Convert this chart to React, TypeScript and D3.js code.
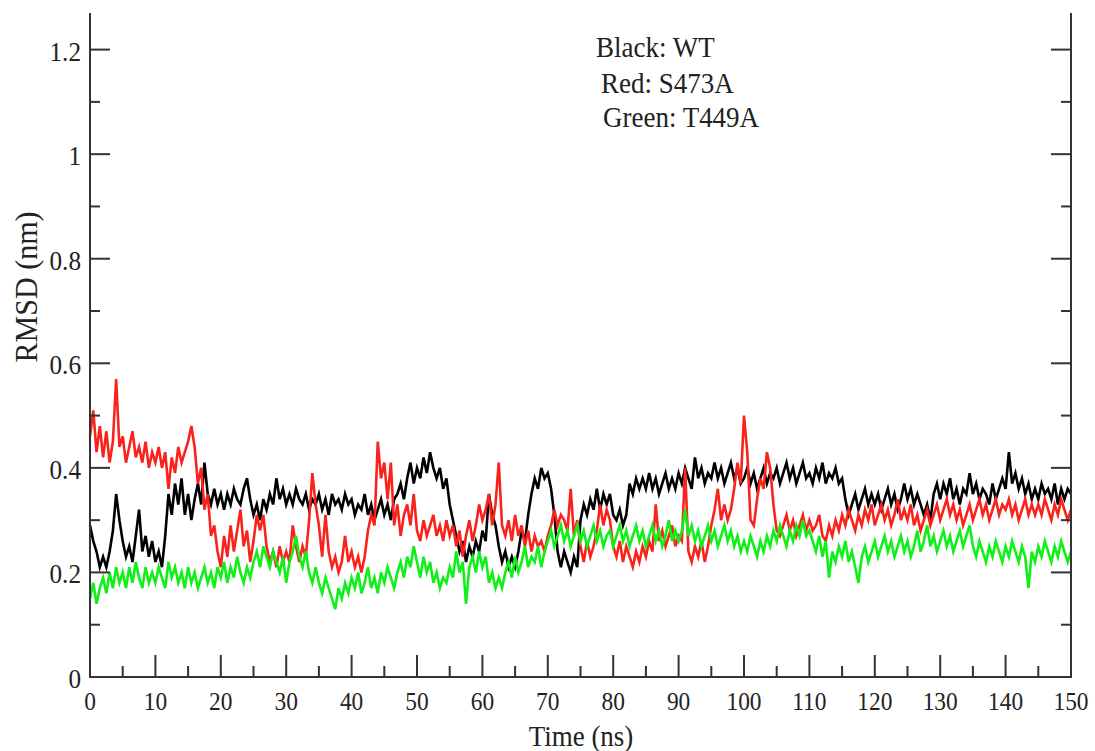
import React, { useRef, useEffect } from 'react';
import * as d3 from 'd3';

// sampled every 0.5 ns, 0..150
const STEP = 0.5;

const wtValues = [
  0.29, 0.26, 0.24, 0.21, 0.23, 0.21, 0.24, 0.28, 0.35, 0.30,
  0.26, 0.23, 0.25, 0.22, 0.27, 0.32, 0.24, 0.27, 0.23, 0.26,
  0.22, 0.24, 0.21, 0.27, 0.35, 0.31, 0.37, 0.33, 0.38, 0.31,
  0.35, 0.30, 0.34, 0.37, 0.33, 0.41, 0.35, 0.33, 0.36, 0.33,
  0.35, 0.32, 0.35, 0.33, 0.36, 0.34, 0.33, 0.36, 0.38, 0.34,
  0.31, 0.33, 0.30, 0.34, 0.32, 0.35, 0.33, 0.38, 0.34, 0.36,
  0.33, 0.35, 0.33, 0.36, 0.34, 0.33, 0.35, 0.32, 0.34, 0.33,
  0.35, 0.32, 0.34, 0.31, 0.35, 0.33, 0.34, 0.32, 0.35, 0.33,
  0.34, 0.31, 0.33, 0.32, 0.35, 0.31, 0.33, 0.30, 0.32, 0.34,
  0.31, 0.33, 0.30, 0.34, 0.35, 0.37, 0.34, 0.38, 0.41, 0.37,
  0.40, 0.38, 0.42, 0.39, 0.43, 0.40, 0.38, 0.40, 0.36, 0.38,
  0.33, 0.30, 0.27, 0.24, 0.26, 0.22, 0.25, 0.23, 0.26, 0.24,
  0.28, 0.26, 0.35, 0.31, 0.29, 0.25, 0.22, 0.24, 0.21, 0.23,
  0.21, 0.24, 0.28, 0.26, 0.31, 0.35, 0.38, 0.36, 0.40, 0.38,
  0.39, 0.36, 0.31, 0.24, 0.21, 0.24, 0.22, 0.20, 0.23, 0.21,
  0.30, 0.33, 0.31, 0.34, 0.32, 0.36, 0.32, 0.35, 0.33, 0.35,
  0.31, 0.30, 0.32, 0.29, 0.31, 0.37, 0.35, 0.38, 0.36, 0.38,
  0.36, 0.39, 0.36, 0.38, 0.35, 0.37, 0.39, 0.36, 0.38, 0.36,
  0.39, 0.37, 0.40, 0.38, 0.36, 0.42, 0.38, 0.40, 0.37, 0.39,
  0.38, 0.41, 0.38, 0.40, 0.37, 0.39, 0.41, 0.38, 0.40, 0.37,
  0.38, 0.40, 0.37, 0.39, 0.36, 0.38, 0.40, 0.37, 0.39, 0.38,
  0.40, 0.37, 0.39, 0.41, 0.38, 0.40, 0.37, 0.39, 0.41, 0.38,
  0.39, 0.37, 0.40, 0.38, 0.41, 0.37, 0.39, 0.38, 0.40, 0.37,
  0.38, 0.34, 0.31, 0.33, 0.35, 0.32, 0.34, 0.36, 0.33, 0.35,
  0.33, 0.35, 0.32, 0.34, 0.36, 0.33, 0.35, 0.32, 0.34, 0.37,
  0.34, 0.36, 0.33, 0.35, 0.33, 0.31, 0.33, 0.30, 0.35, 0.37,
  0.34, 0.37, 0.35, 0.38, 0.34, 0.36, 0.33, 0.36, 0.35, 0.39,
  0.35, 0.37, 0.34, 0.36, 0.35, 0.33, 0.37, 0.34, 0.36, 0.38,
  0.36, 0.43, 0.37, 0.39, 0.36, 0.38, 0.35, 0.37, 0.34, 0.36,
  0.34, 0.37, 0.35, 0.36, 0.34, 0.37, 0.33, 0.36, 0.34, 0.36,
  0.35,
];

const s473aValues = [
  0.46, 0.51, 0.43, 0.48, 0.42, 0.47, 0.41, 0.45, 0.57, 0.44,
  0.46, 0.41, 0.44, 0.47, 0.42, 0.44, 0.41, 0.45, 0.40, 0.43,
  0.41, 0.44, 0.40, 0.43, 0.36, 0.42, 0.39, 0.44, 0.41, 0.43,
  0.45, 0.48, 0.44, 0.37, 0.40, 0.32, 0.35, 0.27, 0.29, 0.24,
  0.21, 0.27, 0.23, 0.29, 0.24, 0.28, 0.32, 0.25, 0.28, 0.22,
  0.26, 0.31, 0.28, 0.31, 0.25, 0.22, 0.24, 0.21, 0.25, 0.22,
  0.24, 0.22, 0.29, 0.25, 0.22, 0.25, 0.23, 0.30, 0.39, 0.33,
  0.29, 0.23, 0.31, 0.24, 0.21, 0.23, 0.20, 0.22, 0.27, 0.22,
  0.24, 0.21, 0.23, 0.20, 0.23, 0.28, 0.31, 0.29, 0.45, 0.38,
  0.41, 0.34, 0.41, 0.29, 0.33, 0.27, 0.31, 0.33, 0.29, 0.35,
  0.28, 0.26, 0.30, 0.27, 0.29, 0.31, 0.27, 0.29, 0.26, 0.30,
  0.27, 0.29, 0.25, 0.28, 0.23, 0.27, 0.30, 0.26, 0.29, 0.33,
  0.30, 0.32, 0.35, 0.29, 0.33, 0.41, 0.29, 0.27, 0.30, 0.26,
  0.31, 0.27, 0.29, 0.25, 0.28, 0.24, 0.27, 0.25, 0.26, 0.24,
  0.27, 0.29, 0.32, 0.29, 0.31, 0.30, 0.28, 0.36, 0.27, 0.30,
  0.25, 0.22, 0.26, 0.23, 0.25, 0.28, 0.33, 0.29, 0.32, 0.30,
  0.25, 0.23, 0.26, 0.22, 0.25, 0.23, 0.21, 0.24, 0.22, 0.25,
  0.23, 0.26, 0.24, 0.33, 0.26, 0.28, 0.25, 0.27, 0.29, 0.25,
  0.27, 0.26, 0.40, 0.24, 0.22, 0.25, 0.23, 0.26, 0.22, 0.25,
  0.29, 0.32, 0.36, 0.30, 0.33, 0.30, 0.32, 0.36, 0.41, 0.37,
  0.50, 0.43, 0.30, 0.29, 0.34, 0.38, 0.36, 0.43, 0.40, 0.33,
  0.28, 0.27, 0.29, 0.31, 0.28, 0.30, 0.27, 0.29, 0.31, 0.28,
  0.30, 0.28, 0.29, 0.31, 0.27, 0.26, 0.29, 0.27, 0.30, 0.28,
  0.31, 0.29, 0.32, 0.30, 0.28, 0.31, 0.29, 0.32, 0.30, 0.33,
  0.29, 0.31, 0.33, 0.30, 0.32, 0.29, 0.31, 0.34, 0.30, 0.32,
  0.30, 0.33, 0.29, 0.31, 0.28, 0.30, 0.32, 0.29, 0.31, 0.33,
  0.30, 0.32, 0.34, 0.31, 0.33, 0.30, 0.32, 0.29, 0.31, 0.33,
  0.30, 0.32, 0.34, 0.31, 0.33, 0.30, 0.32, 0.34, 0.31, 0.33,
  0.32, 0.34, 0.31, 0.33, 0.30, 0.32, 0.34, 0.31, 0.33, 0.31,
  0.33, 0.31, 0.34, 0.32, 0.30, 0.33, 0.31, 0.34, 0.32, 0.30,
  0.32,
];

const t449aValues = [
  0.15, 0.18, 0.14, 0.17, 0.19, 0.16, 0.20, 0.17, 0.21, 0.18,
  0.20, 0.17, 0.21, 0.18, 0.22, 0.19, 0.17, 0.21, 0.18, 0.20,
  0.18, 0.21, 0.19, 0.17, 0.22, 0.19, 0.21, 0.18, 0.20, 0.17,
  0.21, 0.18, 0.20, 0.17, 0.19, 0.21, 0.18, 0.20, 0.17, 0.21,
  0.19, 0.22, 0.18, 0.21, 0.19, 0.23, 0.20, 0.18, 0.21, 0.19,
  0.22, 0.24, 0.21, 0.25, 0.23, 0.21, 0.24, 0.22, 0.20, 0.23,
  0.18, 0.22, 0.24, 0.27, 0.23, 0.21, 0.24, 0.20, 0.18, 0.21,
  0.18, 0.16, 0.19, 0.17, 0.15, 0.13, 0.17, 0.15, 0.18, 0.16,
  0.19, 0.17, 0.20, 0.16, 0.18, 0.21, 0.17, 0.19, 0.16, 0.20,
  0.18, 0.21, 0.19, 0.17, 0.20, 0.22, 0.19, 0.23, 0.21, 0.25,
  0.22, 0.19, 0.23, 0.20, 0.22, 0.18, 0.20, 0.17, 0.19, 0.18,
  0.21, 0.19, 0.24, 0.20, 0.22, 0.14, 0.21, 0.23, 0.20, 0.24,
  0.21, 0.23, 0.18, 0.20, 0.17, 0.19, 0.17, 0.20, 0.22, 0.19,
  0.23, 0.20, 0.22, 0.25, 0.21, 0.23, 0.22, 0.25, 0.21, 0.24,
  0.26, 0.28, 0.25, 0.27, 0.29, 0.26, 0.28, 0.25, 0.27, 0.29,
  0.26, 0.28, 0.25, 0.27, 0.29, 0.26, 0.28, 0.25, 0.27, 0.28,
  0.25, 0.27, 0.29, 0.26, 0.28, 0.25, 0.27, 0.29, 0.26, 0.28,
  0.25, 0.27, 0.29, 0.26, 0.28, 0.25, 0.27, 0.30, 0.26, 0.28,
  0.26, 0.28, 0.32, 0.27, 0.29, 0.26, 0.28, 0.25, 0.27, 0.29,
  0.26, 0.28, 0.25, 0.27, 0.29, 0.26, 0.28, 0.25, 0.27, 0.24,
  0.26, 0.24, 0.27, 0.25, 0.23, 0.26, 0.24, 0.27, 0.25, 0.28,
  0.26, 0.29, 0.27, 0.25, 0.28, 0.26, 0.29, 0.27, 0.30, 0.27,
  0.28, 0.26, 0.24, 0.27, 0.23, 0.26, 0.19, 0.24, 0.22, 0.25,
  0.23, 0.26, 0.22, 0.24, 0.21, 0.18, 0.23, 0.25, 0.22, 0.24,
  0.26, 0.23, 0.25, 0.27, 0.24, 0.26, 0.23, 0.25, 0.27, 0.24,
  0.26, 0.23, 0.25, 0.28, 0.24, 0.26, 0.29, 0.25, 0.27, 0.24,
  0.26, 0.28, 0.25, 0.27, 0.24, 0.26, 0.28, 0.25, 0.27, 0.29,
  0.25, 0.23, 0.26, 0.24, 0.22, 0.25, 0.23, 0.26, 0.24, 0.22,
  0.25, 0.23, 0.26, 0.24, 0.22, 0.25, 0.23, 0.17, 0.24, 0.22,
  0.25, 0.23, 0.26, 0.24, 0.22, 0.25, 0.23, 0.26, 0.24, 0.22,
  0.24,
];

const seriesColors = ['#000000', '#fa231c', '#10f018'];
const legendLines = ['Black: WT', 'Red: S473A', 'Green: T449A'];
const xTicks = [0, 10, 20, 30, 40, 50, 60, 70, 80, 90, 100, 110, 120, 130, 140, 150];
const yTicks = [0, 0.2, 0.4, 0.6, 0.8, 1, 1.2];

const W = 1095;
const H = 751;

const App = () => {
  const svgRef = useRef<SVGSVGElement>(null);

  useEffect(() => {
    const svg = d3.select(svgRef.current);
    svg.selectAll('*').remove();

    const left = 90, right = 1071, top = 13, bottom = 677;
    const xScale = d3.scaleLinear().domain([0, 150]).range([left, right]);
    const yScale = d3.scaleLinear().domain([0, 1.27]).range([bottom, top]);
    const axisColor = '#333';
    const font = "'Liberation Serif', 'Times New Roman', serif";

    // squashed serif text, like the original export
    const label = (x, y, str, size, anchor, sx, rotate = 0) => {
      svg.append('text')
        .attr('transform', `translate(${x},${y}) rotate(${rotate}) scale(${sx},1)`)
        .attr('text-anchor', anchor)
        .attr('font-family', font)
        .attr('font-size', size)
        .attr('fill', '#222')
        .text(str);
    };

    // data lines
    const line = d3.line<number>()
      .x((d, i) => xScale(i * STEP))
      .y(d => yScale(d));
    [wtValues, s473aValues, t449aValues].forEach((vals, i) => {
      svg.append('path')
        .datum(vals)
        .attr('d', line)
        .attr('fill', 'none')
        .attr('stroke', seriesColors[i])
        .attr('stroke-width', 2.6)
        .attr('stroke-linejoin', 'miter');
    });

    // frame (no top edge)
    const frame = svg.append('g').attr('stroke', axisColor).attr('stroke-width', 2).attr('fill', 'none');
    frame.append('path').attr('d', `M${left},${top}V${bottom}H${right}V${top}`);

    // x ticks, pointing in
    d3.range(0, 151, 5).forEach(v => {
      const major = v % 10 === 0;
      frame.append('line')
        .attr('x1', xScale(v)).attr('x2', xScale(v))
        .attr('y1', bottom).attr('y2', bottom - (major ? 22 : 11));
    });

    // y ticks on both sides
    d3.range(0, 13).forEach(k => {
      const v = k / 10;
      const len = k % 2 === 0 ? 20 : 10;
      frame.append('line')
        .attr('x1', left).attr('x2', left + len)
        .attr('y1', yScale(v)).attr('y2', yScale(v));
      frame.append('line')
        .attr('x1', right).attr('x2', right - len)
        .attr('y1', yScale(v)).attr('y2', yScale(v));
    });

    xTicks.forEach(v => label(xScale(v), 710, String(v), 26, 'middle', 0.9));
    yTicks.forEach(v => label(81, yScale(v) + 11, String(v), 28, 'end', 0.9));

    label(581, 746, 'Time (ns)', 30, 'middle', 0.9);
    label(37, 287, 'RMSD (nm)', 31, 'middle', 0.97, -90);

    const legendX = [596, 601, 603];
    const legendY = [57, 93, 127];
    legendLines.forEach((t, i) => label(legendX[i], legendY[i], t, 30, 'start', 0.9));
  }, []);

  return (
    <div style={{ position: 'absolute', left: 0, top: 0, width: W, height: H, background: '#fff' }}>
      <svg ref={svgRef} width={W} height={H}></svg>
    </div>
  );
};

export default App;
